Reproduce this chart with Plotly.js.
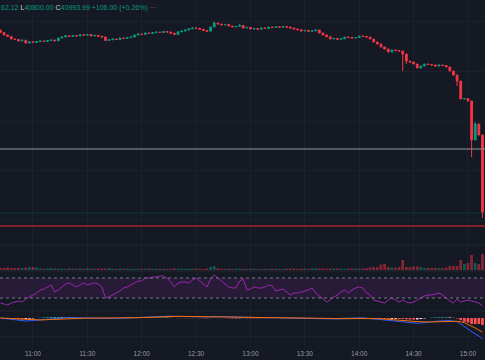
<!DOCTYPE html>
<html><head><meta charset="utf-8">
<script src="https://cdn.plot.ly/plotly-3.0.1.min.js"></script>
<style>html,body{margin:0;padding:0;background:#151924;}#chart{width:485px;height:360px;}</style>
</head><body><div id="chart"></div>
<script>
// ---- data (2-minute bars) ----
const firstOpen = 40996.0;
const closes = [
40993.5,40991.0,40989.5,40987.0,40986.5,40985.0,40985.8,40983.0,40984.2,40983.5,
40984.5,40985.0,40984.6,40985.5,40986.0,40985.2,40988.0,40989.0,40990.2,40989.6,
40990.5,40990.0,40991.2,40990.8,40991.5,40990.0,40990.6,40989.8,40989.0,40985.5,
40986.2,40987.0,40986.5,40988.0,40987.6,40988.4,40989.0,40991.0,40992.0,40991.6,
40993.0,40992.6,40993.4,40994.0,40993.5,40994.5,40994.0,40992.8,40991.5,40994.2,
40995.0,40996.0,40997.2,40998.0,40997.6,40996.8,40995.5,40994.8,40999.0,41003.0,
41002.0,41001.2,41001.6,41000.0,40999.2,40999.6,41000.5,40998.0,40998.6,40997.0,
40997.4,40996.8,40998.0,40997.6,40999.0,40998.6,40999.2,40998.8,40999.5,40998.9,
40998.0,40997.0,40996.2,40995.0,40995.6,40994.8,40995.2,40996.0,40993.0,40991.0,
40989.2,40987.0,40987.6,40986.8,40987.2,40989.0,40988.6,40988.0,40988.5,40990.0,
40989.6,40989.0,40987.0,40984.0,40982.0,40979.0,40977.0,40974.0,40976.0,40975.5,
40975.0,40972.0,40965.0,40964.0,40962.0,40958.0,40960.0,40962.0,40961.5,40961.0,
40960.0,40961.0,40960.5,40959.0,40955.0,40951.0,40945.0,40927.0,40927.5,40925.0,
40886.0,40902.0,40891.0,40814.0];
const wickHigh = {59: 41004.5, 66: 41002.2, 131: 40904.0};
const wickLow  = {111: 40955.0, 112: 40962.0, 126: 40940.0, 130: 40869.0, 133: 40808.0};
const volumes = [
200,200,250,200,200,200,200,250,300,300,250,
150,120,160,200,140,130,150,110,160,140,120,150,130,170,140,120,150,130,160,200,
130,110,140,120,150,130,100,140,120,130,150,110,130,140,120,100,130,150,120,140,110,130,120,140,130,110,150,
300,400,200,
130,120,140,110,130,150,120,100,130,140,120,110,130,120,140,130,110,120,140,130,150,120,130,140,120,
170,180,170,
150,140,160,130,150,140,120,150,160,140,130,150,
200,250,300,
300,550,600,300,250,250,300,1000,300,300,350,350,300,200,200,200,200,200,200,250,400,400,400,1000,600,700,1500,700,600,1600];
const rsi = [
20,18,16,20,22,24,22,28,32,36,
40,46,48,52,56,42,46,52,58,60,
56,52,56,60,56,58,60,58,52,30,
32,36,40,44,50,52,56,60,64,64,
70,70,72,72,74,74,70,62,52,60,
62,62,60,66,70,64,58,52,68,76,
70,64,58,52,50,50,64,68,46,48,
52,50,50,52,56,54,44,46,48,42,
36,40,40,42,44,46,50,40,34,28,
22,26,32,36,42,46,40,46,50,52,
50,40,36,26,24,22,20,26,30,26,
22,26,22,20,22,26,30,34,36,36,
38,40,36,30,24,20,28,22,24,26,
24,22,20,14];
const macdLine = [
0,-0.5,-1,-1.5,-2,-2.5,-3,-3,-2.8,-2.5,
-2,-1.6,-1.2,-0.8,-0.4,-0.2,0,0,0.2,0.2,
0.1,0,0,0.1,0,-0.2,-0.3,-0.3,-0.4,-0.6,
-0.6,-0.5,-0.4,-0.3,-0.1,0.1,0.3,0.5,0.7,0.9,
1,1.2,1.4,1.6,1.8,2,2,1.9,1.6,1.5,
1.4,1.4,1.3,1.4,1.4,1.2,1,0.8,1.1,1.5,
1.4,1.2,1,0.8,0.5,0.4,0.5,0.6,0.3,0.2,
0.1,0.1,0.1,0.2,0.2,0.3,0.2,0.2,0.2,0.1,
0,-0.2,-0.4,-0.5,-0.6,-0.6,-0.5,-0.4,-0.6,-0.9,
-1.2,-1.3,-1.2,-1,-0.8,-0.5,-0.4,-0.3,-0.2,0,
0,-0.2,-0.4,-0.8,-1.2,-1.6,-2,-2.4,-2.6,-2.8,
-3,-3.4,-4,-4.5,-5,-5.2,-5,-4.5,-4,-3.5,
-3.2,-3,-2.8,-2.6,-2.6,-3,-3.8,-6,-8.5,-11,
-14,-16,-18,-21];
const signalLine = [
0,-0.2,-0.4,-0.7,-1,-1.3,-1.6,-1.8,-2,-2,
-2,-1.9,-1.8,-1.6,-1.4,-1.2,-1,-0.8,-0.6,-0.5,
-0.4,-0.3,-0.2,-0.1,-0.1,-0.1,-0.1,-0.2,-0.2,-0.3,
-0.3,-0.4,-0.4,-0.3,-0.3,-0.2,-0.1,0.1,0.3,0.4,
0.6,0.8,1,1.1,1.3,1.5,1.6,1.7,1.7,1.7,
1.6,1.6,1.5,1.5,1.5,1.4,1.3,1.2,1.2,1.2,
1.3,1.3,1.2,1.1,1,0.9,0.8,0.7,0.6,0.5,
0.4,0.3,0.3,0.3,0.2,0.2,0.2,0.2,0.2,0.2,
0.1,0.1,0,-0.1,-0.2,-0.3,-0.4,-0.4,-0.4,-0.5,
-0.6,-0.7,-0.8,-0.9,-0.9,-0.8,-0.7,-0.6,-0.5,-0.4,
-0.3,-0.3,-0.3,-0.4,-0.6,-0.8,-1,-1.3,-1.6,-1.9,
-2.1,-2.4,-2.7,-3,-3.4,-3.7,-4,-4,-4,-3.9,
-3.8,-3.6,-3.5,-3.3,-3.2,-3.2,-3.3,-3.8,-4.7,-6.5,
-8,-10,-12,-14];
const levelWhite = 40877, levelRed = 40800, levelGreen = 40813;
const tickLabels = ['11:00','11:30','12:00','12:30','13:00','13:30','14:00','14:30','15:00'];

// ---- build ----
const day = '2024-03-08 ';
function t(minsFrom1042){
  const m = 10*60+42+minsFrom1042;
  const h = Math.floor(m/60), mm = m%60;
  return day + String(h).padStart(2,'0') + ':' + String(mm).padStart(2,'0') + ':00';
}
const times = closes.map((_, i) => t(2*i));
const opens = closes.map((c, i) => i === 0 ? firstOpen : closes[i-1]);
const highs = closes.map((c, i) => wickHigh[i] !== undefined ? wickHigh[i] : Math.max(c, opens[i]));
const lows  = closes.map((c, i) => wickLow[i]  !== undefined ? wickLow[i]  : Math.min(c, opens[i]));
const GREEN = '#089981', RED = '#f23645';
const volColors = closes.map((c, i) => c >= opens[i] ? 'rgba(8,153,129,0.5)' : 'rgba(242,54,69,0.5)');
const hist = macdLine.map((m, i) => +(m - signalLine[i]).toFixed(2));
const histColors = hist.map((h, i) => {
  const prev = i === 0 ? 0 : hist[i-1];
  if (h >= 0) return h >= prev ? '#26a69a' : '#b2dfdb';
  return h <= prev ? '#ff5252' : '#ffcdd2';
});
const tickVals = tickLabels.map(s => day + s + ':00');

const traces = [
  {type:'candlestick', x:times, open:opens, high:highs, low:lows, close:closes,
   xaxis:'x', yaxis:'y', hoverinfo:'skip',
   increasing:{line:{color:GREEN, width:1}, fillcolor:GREEN},
   decreasing:{line:{color:RED, width:1}, fillcolor:RED}, whiskerwidth:0},
  {type:'bar', x:times, y:volumes, xaxis:'x', yaxis:'y2', marker:{color:volColors, line:{width:0}}, hoverinfo:'skip'},
  {type:'scatter', mode:'lines', x:times, y:rsi, xaxis:'x', yaxis:'y3', line:{color:'#9c27b0', width:1}, hoverinfo:'skip'},
  {type:'bar', x:times, y:hist, xaxis:'x', yaxis:'y4', marker:{color:histColors, line:{width:0}}, hoverinfo:'skip'},
  {type:'scatter', mode:'lines', x:times, y:macdLine, xaxis:'x', yaxis:'y4', line:{color:'#2962ff', width:1}, hoverinfo:'skip'},
  {type:'scatter', mode:'lines', x:times, y:signalLine, xaxis:'x', yaxis:'y4', line:{color:'#ff6d00', width:1}, hoverinfo:'skip'}
];

const GRID = '#1c202b';
const sepLine = (py) => ({type:'line', xref:'paper', yref:'paper', x0:0, x1:1, y0:py, y1:py, line:{color:'#232733', width:1}});
const layout = {
  width:485, height:360,
  paper_bgcolor:'#151924', plot_bgcolor:'#151924',
  margin:{l:0, r:0, t:0, b:12},
  showlegend:false, bargap:0.25,
  xaxis:{type:'date', range:[day+'10:41:48', day+'15:09:24'], tickvals:tickVals, ticktext:tickLabels,
    showgrid:true, gridcolor:GRID, gridwidth:1, ticks:'', zeroline:false, showline:false,
    tickfont:{size:6.5, color:'#9598a1', family:'Liberation Sans, Arial, sans-serif'},
    rangeslider:{visible:false}, anchor:'y4', fixedrange:true},
  yaxis:{domain:[0.296,1], range:[40781,41026], showticklabels:false, tickvals:[41005,40955,40905,40855,40805],
    gridcolor:GRID, zeroline:false, fixedrange:true},
  yaxis2:{domain:[0.2213,0.296], range:[-100,2500], showgrid:false, showticklabels:false, zeroline:false, fixedrange:true},
  yaxis3:{domain:[0.1063,0.2213], range:[4,84], showgrid:false, showticklabels:false, zeroline:false, fixedrange:true},
  yaxis4:{domain:[0,0.1063], range:[-30,7], showticklabels:false, tickvals:[-19], gridcolor:GRID, zeroline:false, fixedrange:true},
  shapes:[
    sepLine(0.296), sepLine(0.2213), sepLine(0.1063),
    {type:'rect', xref:'paper', yref:'y3', x0:0, x1:1, y0:30, y1:70, fillcolor:'rgba(156,39,176,0.15)', line:{width:0}, layer:'below'},
    {type:'line', xref:'paper', yref:'y3', x0:0, x1:1, y0:70, y1:70, line:{color:'#787b86', width:1, dash:'3px,3px'}},
    {type:'line', xref:'paper', yref:'y3', x0:0, x1:1, y0:30, y1:30, line:{color:'#787b86', width:1, dash:'3px,3px'}},
    {type:'line', xref:'paper', yref:'y', x0:0, x1:1, y0:levelGreen, y1:levelGreen, line:{color:'rgba(8,153,129,0.22)', width:1}},
    {type:'line', xref:'paper', yref:'y', x0:0, x1:1, y0:levelWhite, y1:levelWhite, line:{color:'#9598a1', width:1}},
    {type:'line', xref:'paper', yref:'y', x0:0, x1:1, y0:levelRed, y1:levelRed, line:{color:'#a3252f', width:1.5}}
  ],
  annotations:[
    {xref:'paper', yref:'paper', x:0, y:1, xanchor:'left', yanchor:'top', xshift:-1, yshift:-2, showarrow:false, align:'left',
     font:{size:7, color:'#089981', family:'Liberation Sans, Arial, sans-serif'},
     text:'62.12 <span style="color:#d1d4dc">L</span>40800.00 <span style="color:#d1d4dc">C</span>40993.99 +106.00 (+0.26%) <span style="color:#787b86">···</span>'}
  ]
};
Plotly.newPlot('chart', traces, layout, {displayModeBar:false, staticPlot:true});
</script></body></html>
